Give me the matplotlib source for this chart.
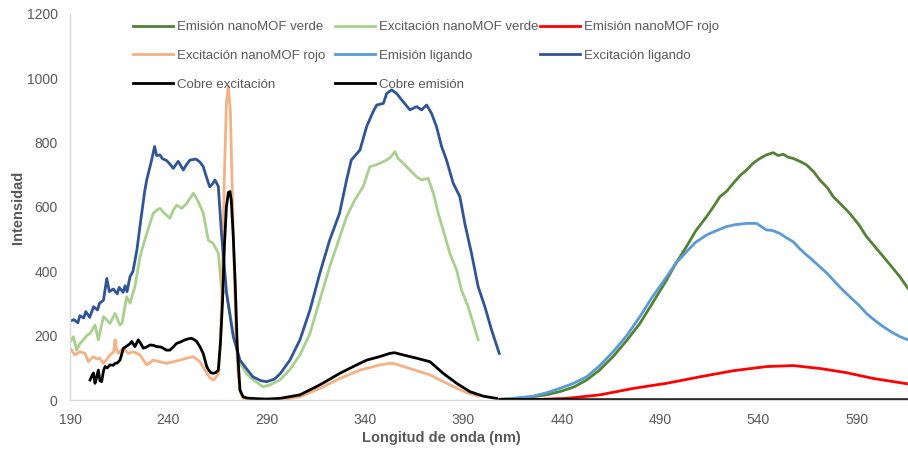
import matplotlib.pyplot as plt

plt.rcParams['font.family'] = ['Liberation Sans', 'DejaVu Sans']

# Excitación ligando
exc_lig_x = [190, 192, 194, 195, 197, 198, 200, 202, 204, 205, 207, 208.7, 210, 212, 214, 215, 217, 218, 219,
             220.5, 222, 224, 226, 228, 229, 231.5, 233, 234, 235.7, 237, 239, 241, 242.5, 245, 247.6, 249, 251,
             254, 256, 257.7, 259, 261, 262.5, 263.7, 265.4, 267, 269.6, 273, 276.4, 280, 283, 287, 290, 294,
             297, 301.8, 306.9, 312, 317, 322, 327, 330.6, 333, 337.4, 340.8, 344, 345.9, 349.3, 351, 353.5, 356,
             359.4, 362.8, 366.2, 368.7, 371.3, 373.8, 376.3, 378.9, 381.4, 384.8, 388.2, 390.7, 394.1, 397.5,
             400.9, 404.3, 408.2]
exc_lig_y = [245, 250, 240, 262, 255, 275, 257, 290, 280, 301, 310, 378, 337, 345, 330, 350, 335, 355, 337,
             383, 400, 466, 560, 650, 684, 746, 788, 760, 762, 750, 745, 732, 720, 742, 715, 730, 746,
             749, 740, 726, 700, 663, 672, 684, 664, 518, 332, 197, 124, 95, 72, 60, 57, 65,
             83, 124, 187, 280, 394, 497, 580, 684, 746, 777, 850, 895, 917, 922, 953, 964, 953,
             927, 902, 912, 902, 917, 891, 850, 788, 746, 674, 632, 549, 456, 352,
             290, 218, 145]

# Excitación nanoMOF verde
exc_verde_x = [190, 191.7, 193.4, 195, 196.8, 198.5, 200.2, 202.7, 204.4, 207, 208.5, 210.3, 212.9, 215.4, 216.5,
               218.8, 220.5, 223, 225.6, 229, 232.3, 234, 235.7, 238, 240.8, 242.5, 244.2, 246.8, 249.3, 252.7,
               255.2, 257.8, 260.3, 262.8, 265.4, 267.1, 269.6, 273, 276.4, 280, 283.3, 288.2, 292, 296.7, 301.8,
               306.9, 312, 317, 322, 327.2, 330.6, 334.8, 339, 342.4, 345, 347.5, 351, 353, 355.2, 356.9, 359.4,
               362.8, 366.2, 368.7, 372.1, 374.7, 377.2, 379.7, 383.1, 386.5, 389, 392.4, 395, 397.5]
exc_verde_y = [180, 197, 155, 175, 187, 200, 207, 233, 187, 259, 250, 238, 269, 233, 240,
               321, 301, 352, 446, 518, 580, 590, 596, 580, 565, 590, 606, 596, 611, 643,
               617, 580, 497, 487, 456, 342, 332, 207, 114, 80, 62, 41, 48, 62, 95,
               140, 207, 311, 414, 508, 570, 622, 663, 725, 730, 736, 746, 755, 772, 750, 736,
               715, 694, 684, 689, 643, 580, 529, 456, 404, 342, 290, 238, 187]

# Excitación nanoMOF rojo
exc_rojo_x = [190, 192.5, 195, 197.6, 199.3, 201.8, 203.5, 205.2, 206.9, 208.5, 210.3, 212.2, 212.9, 213.6, 214.5,
              217.1, 219.6, 222.2, 225.6, 229, 232.3, 235.7, 239.1, 242.5, 245.9, 249.3, 252.7, 256, 258.6, 261,
              263, 265.4, 266.5, 267.5, 268.5, 269.5, 270.5, 271.5, 272.5, 273.5, 274.5, 275.5, 276.5, 278, 280,
              290, 300, 306.9, 317, 327.2, 337.4, 347.5, 352.6, 354.3, 362.8, 373, 383.1, 391.6, 397.5]
exc_rojo_y = [161, 140, 150, 145, 119, 135, 128, 130, 114, 125, 140, 150, 187, 160, 145,
              161, 145, 150, 140, 109, 124, 119, 114, 119, 124, 130, 135, 119, 93, 70,
              62, 80, 180, 400, 700, 920, 975, 900, 650, 400, 190, 80, 25, 5, 3,
              2, 3, 10, 36, 67, 93, 109, 114, 114, 98, 78, 47, 23, 12]

# Cobre excitación
cu_exc_x = [200.2, 201.1, 201.9, 202.7, 203.5, 204.4, 205.2, 206.1, 207, 207.8, 209, 210.3, 212, 212.9, 214,
            215.4, 216.2, 217.1, 218.3, 219.6, 220.5, 221.4, 223, 224.7, 226, 227.3, 229, 230.7, 232.3, 234.1,
            236, 237.4, 239, 240.8, 242.5, 244.2, 246, 248.4, 250, 251.8, 253, 254.4, 256, 257.7, 259.5, 260.3,
            261.5, 262.9, 264, 265.4, 266.5, 267.5, 268.5, 269.5, 270.5, 271.3, 272, 273, 274, 275, 276.4, 278,
            280, 285, 290, 296.7, 306.9, 317, 327.2, 334, 340.8, 347.5, 352.6, 355, 359.4, 366.2, 373, 379.7,
            386.5, 393.3, 400, 406.8]
cu_exc_y = [62, 75, 84, 52, 70, 93, 60, 57, 90, 104, 100, 109, 108, 114, 115,
            124, 140, 161, 165, 171, 175, 182, 166, 187, 175, 161, 165, 171, 170, 166,
            165, 161, 155, 155, 165, 176, 180, 187, 190, 192, 188, 182, 166, 145, 104, 95,
            85, 83, 85, 93, 180, 301, 480, 600, 645, 648, 620, 508, 360, 170, 31, 10,
            6, 4, 3, 5, 16, 47, 83, 104, 124, 135, 145, 147, 140, 130, 119, 83,
            52, 26, 12, 5]

# Emisión nanoMOF verde
em_verde_x = [408.5, 415, 425.5, 432, 439, 446, 452.6, 459, 466.1, 473, 479.7, 486, 493.3, 498, 503.4, 508, 513.6,
              517, 520.4, 524, 527.2, 531, 534, 537, 540.7, 544, 547.5, 550, 552.6, 555, 557.6, 561, 564.4, 568,
              571.2, 575, 578, 582, 586.4, 591, 594.9, 599, 603.4, 608, 611.9, 616]
em_verde_y = [2, 4, 10, 16, 26, 40, 62, 92, 135, 185, 238, 300, 373, 425, 477, 525, 570,
              600, 632, 650, 674, 700, 715, 735, 751, 762, 769, 760, 764, 755, 751, 742, 731, 710,
              684, 660, 632, 608, 580, 545, 508, 478, 446, 412, 383, 347]

# Emisión ligando
em_lig_x = [408.5, 415, 425.5, 432, 439, 446, 452.6, 459, 466.1, 473, 479.7, 486, 493.3, 498, 503.4, 508, 513.6,
            518, 523.7, 528, 534, 539, 544, 547, 550.8, 554, 557.6, 561, 564.4, 568, 571.2, 575, 578, 582, 586.4,
            591, 594.9, 599, 603.4, 608, 611.9, 616]
em_lig_y = [2, 5, 12, 22, 36, 52, 72, 105, 150, 200, 259, 320, 383, 425, 461, 490, 513,
            525, 539, 545, 549, 549, 529, 527, 518, 505, 492, 470, 451, 432, 414, 393, 373, 347, 321,
            295, 269, 248, 228, 210, 197, 187]

# Emisión nanoMOF rojo
em_rojo_x = [408.5, 425, 442.4, 459.4, 476.3, 493.3, 510.2, 527.2, 544.1, 557.6, 571.2, 584.7, 598.3, 616]
em_rojo_y = [0, 1, 5, 16, 36, 52, 72, 91, 104, 107, 98, 85, 67, 50]

# Cobre emisión
cu_em_x = [408.5, 450, 500, 550, 616]
cu_em_y = [2, 1, 1, 1, 1]

series = [
    ("Emisión nanoMOF verde", em_verde_x, em_verde_y, "#548235"),
    ("Excitación nanoMOF verde", exc_verde_x, exc_verde_y, "#A9D18E"),
    ("Emisión nanoMOF rojo", em_rojo_x, em_rojo_y, "#FF0000"),
    ("Excitación nanoMOF rojo", exc_rojo_x, exc_rojo_y, "#F4B183"),
    ("Emisión ligando", em_lig_x, em_lig_y, "#5B9BD5"),
    ("Excitación ligando", exc_lig_x, exc_lig_y, "#2F5597"),
    ("Cobre excitación", cu_exc_x, cu_exc_y, "#000000"),
    ("Cobre emisión", cu_em_x, cu_em_y, "#000000"),
]

W, H = 908, 454
fig = plt.figure(figsize=(W / 100, H / 100), dpi=100)
ax = fig.add_axes([70 / W, 54 / H, 838 / W, 386 / H])

handles = []
for label, xs, ys, color in series:
    line, = ax.plot(xs, ys, color=color, lw=2.0, label=label, solid_joinstyle='round')
    handles.append(line)

ax.set_xlim(190, 616)
ax.set_ylim(0, 1200)
ax.set_xticks(range(190, 600, 50))
ax.set_yticks(range(0, 1201, 200))

grey = "#595959"
ax.tick_params(length=0, labelsize=10, labelcolor=grey)
ax.tick_params(axis='x', pad=9)
ax.tick_params(axis='y', pad=9)
for side in ['top', 'right']:
    ax.spines[side].set_visible(False)
for side in ['left', 'bottom']:
    ax.spines[side].set_color("#D9D9D9")
    ax.spines[side].set_linewidth(1.0)

fig.text(441 / W, 1 - 438 / H, "Longitud de onda (nm)", ha='center', va='center',
         fontsize=10.5, fontweight='bold', color=grey)
fig.text(18 / W, 1 - 207 / H, "Intensidad", ha='center', va='center', rotation=90,
         fontsize=10.5, fontweight='bold', color=grey)

# legend laid out row by row in three columns, one legend per column
columns = [[0, 3, 6], [1, 4, 7], [2, 5]]
col_x = [133, 335, 540]
for cx, idx in zip(col_x, columns):
    fig.legend([handles[i] for i in idx], [series[i][0] for i in idx],
               loc='upper left', bbox_to_anchor=(cx / W, 1 - 21 / H),
               bbox_transform=fig.transFigure, frameon=False, fontsize=9.5,
               handlelength=3.0, handletextpad=0.3, labelspacing=1.25,
               borderpad=0, borderaxespad=0, labelcolor=grey)

fig.savefig("out.png", dpi=100)
